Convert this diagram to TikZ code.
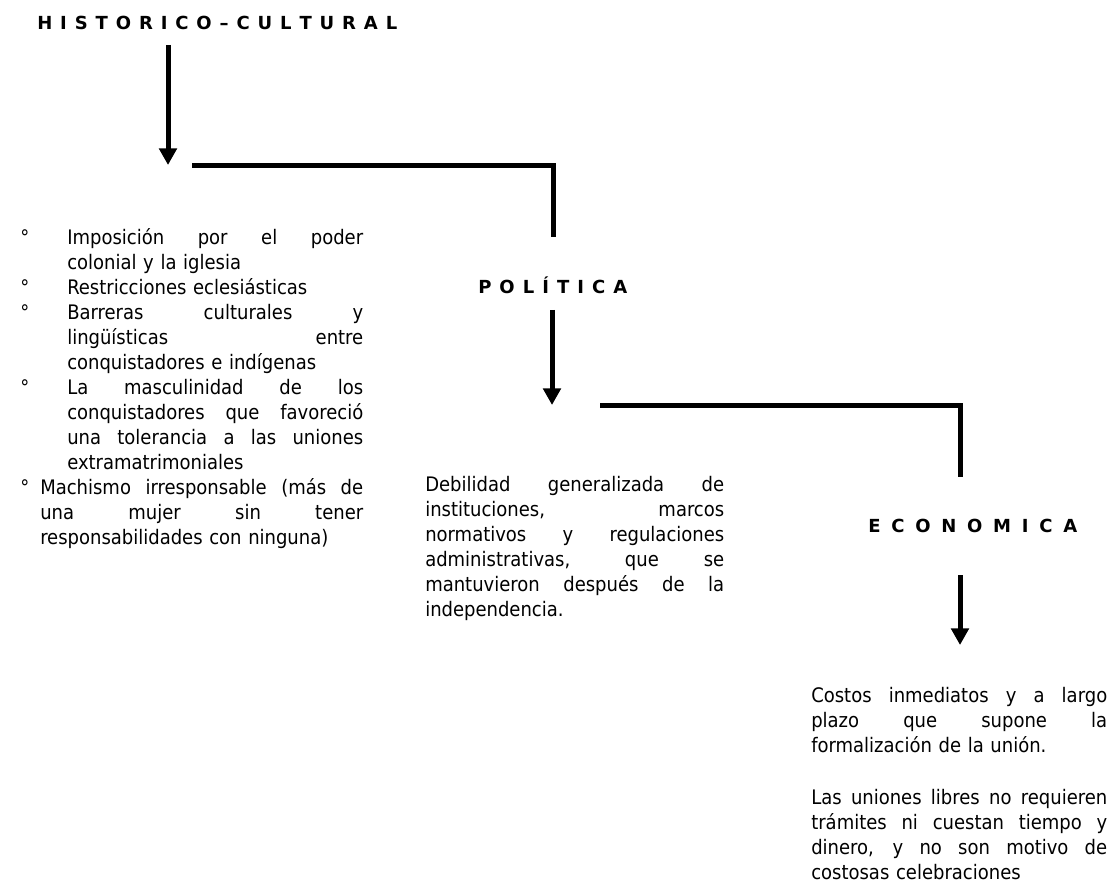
\documentclass[tikz,border=0pt]{standalone}
\usepackage{fontspec}
\setmainfont{DejaVu Sans Condensed}
\newfontfamily\headfont{DejaVu Sans}
\usetikzlibrary{arrows.meta}
\newcommand{\J}[2]{\makebox[#1][s]{\spaceskip=0.3em plus 1fil\relax #2}}
\newcommand{\bul}{\makebox[35.25pt][l]{°}}
\newcommand{\ind}{\hspace*{35.25pt}}
\newcommand{\bulb}{\makebox[15pt][l]{°}}
\newcommand{\indb}{\hspace*{15pt}}
\tikzset{
  body/.style={anchor=base west, inner sep=0pt, align=left, font={\fontsize{15}{18.75}\selectfont}},
  head/.style={anchor=base west, inner sep=0pt, font={\headfont\fontsize{13.5}{18.75}\selectfont\bfseries}},
  arr/.style={line width=3.75pt, -{Triangle[length=12.5pt,width=13pt]}},
  ln/.style={line width=3.75pt, line join=miter, line cap=butt},
}
\begin{document}
\begin{tikzpicture}[x=0.75pt,y=-0.75pt]
\path[use as bounding box, fill=white] (0,0) rectangle (1114,884);

% headings
\node[head] (hist) at (37,30) {\J{270pt}{H I S T O R I C O – C U L T U R A L}};
\node[head] (pol) at (478,294) {\J{111.75pt}{P O L Í T I C A}};
\node[head] (eco) at (868,532) {\J{156.75pt}{E C O N O M I C A}};

% text blocks
\node[body, text width=258pt] (lista) at (20,245) {%
\bul\J{222pt}{Imposición por el poder}\\
\ind colonial y la iglesia\\
\bul Restricciones eclesiásticas\\
\bul\J{222pt}{Barreras culturales y}\\
\ind\J{222pt}{lingüísticas entre}\\
\ind conquistadores e indígenas\\
\bul\J{222pt}{La masculinidad de los}\\
\ind\J{222pt}{conquistadores que favoreció}\\
\ind\J{222pt}{una tolerancia a las uniones}\\
\ind extramatrimoniales\\
\bulb\J{242.25pt}{Machismo irresponsable (más de}\\
\indb\J{242.25pt}{una mujer sin tener}\\
\indb responsabilidades con ninguna)};

\node[body, text width=224.25pt] (deb) at (425,491) {%
\J{224.25pt}{Debilidad generalizada de}\\
\J{224.25pt}{instituciones, marcos}\\
\J{224.25pt}{normativos y regulaciones}\\
\J{224.25pt}{administrativas, que se}\\
\J{224.25pt}{mantuvieron después de la}\\
independencia.};

\node[body, text width=222pt] (cost) at (811,702) {%
\J{222pt}{Costos inmediatos y a largo}\\
\J{222pt}{plazo que supone la}\\
formalización de la unión.\\[20.25pt]
\J{222pt}{Las uniones libres no requieren}\\
\J{222pt}{trámites ni cuestan tiempo y}\\
\J{222pt}{dinero, y no son motivo de}\\
costosas celebraciones};

% connectors
\coordinate (a1s) at (168,45);
\coordinate (a1e) at (168,165);
\coordinate (l1s) at (192,166);
\coordinate (l1e) at (553,237);
\coordinate (a2s) at (552,310);
\coordinate (a2e) at (552,405);
\coordinate (l2s) at (600,405);
\coordinate (l2e) at (960,477);
\coordinate (a3s) at (960,575);
\coordinate (a3e) at (960,645);

\draw[arr] (a1s) -- (a1e);
\draw[ln] (l1s) -| (l1e);
\draw[arr] (a2s) -- (a2e);
\draw[ln] (l2s) -| (l2e);
\draw[arr] (a3s) -- (a3e);
\end{tikzpicture}
\end{document}
